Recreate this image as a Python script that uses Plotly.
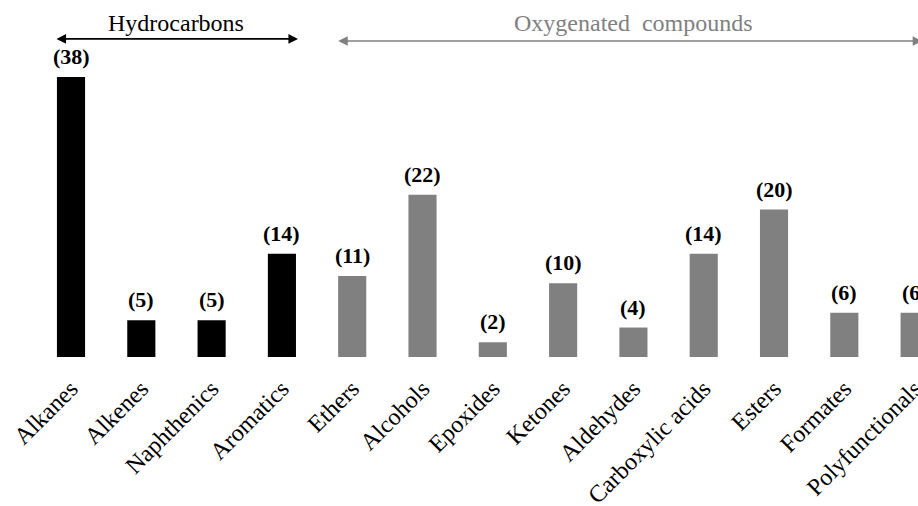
import plotly.graph_objects as go

categories = ["Alkanes", "Alkenes", "Naphthenics", "Aromatics", "Ethers", "Alcohols",
              "Epoxides", "Ketones", "Aldehydes", "Carboxylic acids", "Esters",
              "Formates", "Polyfunctionals"]
counts = [38, 5, 5, 14, 11, 22, 2, 10, 4, 14, 20, 6, 6]
groups = ["Hydrocarbons"] * 4 + ["Oxygenated"] * 9
group_colors = {"Hydrocarbons": "#000000", "Oxygenated": "#808080"}

SERIF = "Liberation Serif, Times New Roman, serif"

idx = list(range(len(categories)))
fig = go.Figure()
fig.add_trace(go.Bar(
    x=idx, y=counts, width=0.4,
    marker=dict(color=[group_colors[g] for g in groups], line=dict(width=0)),
    hoverinfo="skip",
))

annotations = []
for i, v in zip(idx, counts):
    annotations.append(dict(
        x=i, y=v, xref="x", yref="y", text=f"<b>({v})</b>", showarrow=False,
        yanchor="bottom", yshift=6, font=dict(family=SERIF, size=22, color="#000000"),
    ))

# group headers
annotations += [
    dict(x=3.229, y=0.891, ax=-0.228, ay=0.891, xref="x", yref="y domain",
         axref="x", ayref="y domain", text="", showarrow=True, arrowside="end+start",
         arrowhead=2, arrowsize=1.2, arrowwidth=1.6, arrowcolor="#000000",
         standoff=0, startstandoff=0),
    dict(x=1.5, y=0.936, xref="x", yref="y domain", yanchor="middle", text="Hydrocarbons",
         showarrow=False, font=dict(family=SERIF, size=24, color="#000000")),
    dict(x=3.80, y=0.885, ax=12.13, ay=0.885, xref="x", yref="y domain",
         axref="x", ayref="y domain", text="", showarrow=True, arrowside="end+start",
         arrowhead=2, arrowsize=1.2, arrowwidth=1.6, arrowcolor="#808080",
         standoff=0, startstandoff=0),
    dict(x=8.0, y=0.936, xref="x", yref="y domain", yanchor="middle",
         text="Oxygenated&nbsp;&nbsp;compounds",
         showarrow=False, font=dict(family=SERIF, size=24, color="#808080")),
]

fig.update_layout(
    width=918, height=506,
    margin=dict(l=0, r=0, t=0, b=149, autoexpand=False),
    plot_bgcolor="white", paper_bgcolor="white",
    showlegend=False,
    annotations=annotations,
    xaxis=dict(
        range=[-1.01, 12.048], tickmode="array", tickvals=idx, ticktext=categories,
        tickangle=-45, showgrid=False, showline=False, zeroline=False, ticks="",
        automargin=False, ticklabeloverflow="allow", ticklabelstandoff=12,
        tickfont=dict(family=SERIF, size=24, color="#000000"),
    ),
    yaxis=dict(range=[0, 48.44], visible=False, showgrid=False, zeroline=False,
               automargin=False),
)

fig.write_html(
    "out.html",
    config={"displayModeBar": False},
    post_script="document.body.style.margin='0';document.body.style.overflow='hidden';",
)
